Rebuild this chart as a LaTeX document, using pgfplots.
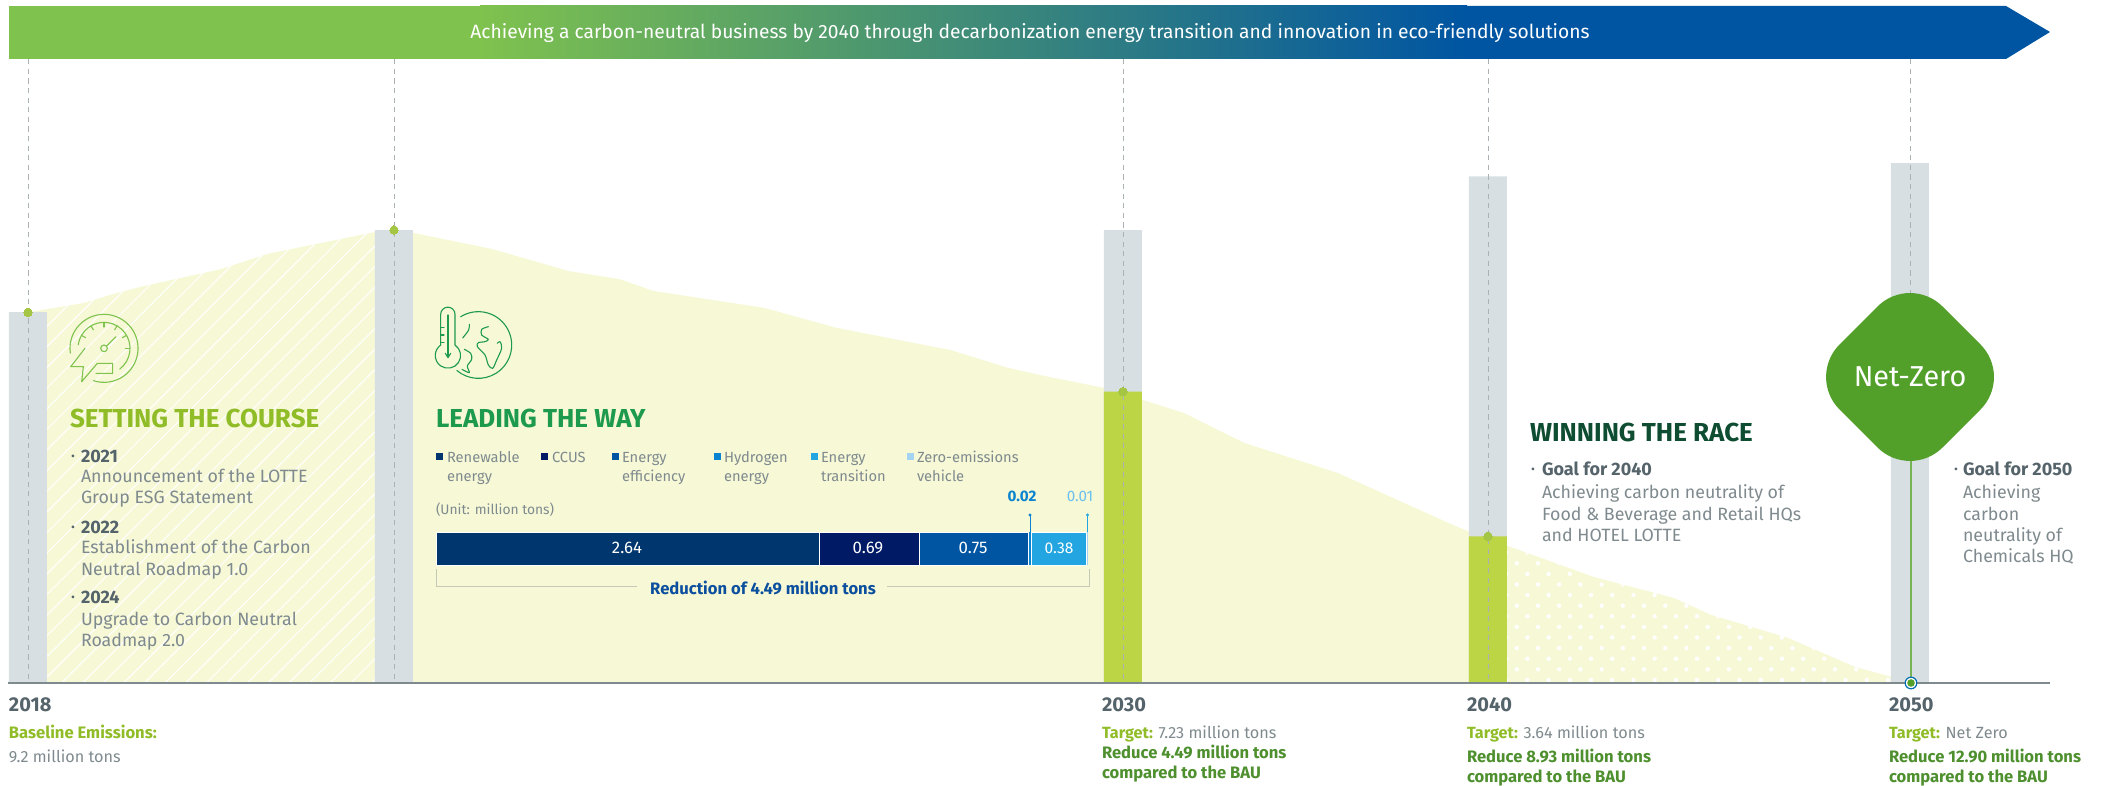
\documentclass[border=0pt]{standalone}
\usepackage{fontspec}
\usepackage{pgfplots}
\pgfplotsset{compat=1.18}
\usepackage{pgfplotstable}
\usetikzlibrary{patterns.meta,shadings}
\setmainfont{Fira Sans}

\definecolor{areaC}{HTML}{F6F8D6}
\definecolor{greyBar}{HTML}{D7DFE2}
\definecolor{limeBar}{HTML}{BBD544}
\definecolor{limeDot}{HTML}{A5C544}
\definecolor{dashC}{HTML}{ABB2B5}
\definecolor{baseC}{HTML}{7E8A8D}
\definecolor{arrowG}{HTML}{7FC24E}
\definecolor{arrowB}{HTML}{0055A2}
\definecolor{netZ}{HTML}{52A02A}
\definecolor{headA}{HTML}{8FBC27}
\definecolor{headB}{HTML}{1E9A4C}
\definecolor{headC}{HTML}{0E4D32}
\definecolor{txtD}{HTML}{55636A}
\definecolor{txtL}{HTML}{7F8A8E}
\definecolor{txtG}{HTML}{4E8F2E}
\definecolor{cRen}{HTML}{00366E}
\definecolor{cCcus}{HTML}{001A66}
\definecolor{cEff}{HTML}{0055A2}
\definecolor{cHyd}{HTML}{0A84D0}
\definecolor{cTra}{HTML}{22A5E0}
\definecolor{cZer}{HTML}{A5D3F2}
\definecolor{cZerT}{HTML}{6CC0EE}
\definecolor{brkt}{HTML}{C5C9B8}
\definecolor{redT}{HTML}{0B4F9E}

% Emissions curve, million tons (x is the horizontal position on the timeline)
\pgfplotstableread{
x y
28 9.20
84 9.43
117 9.68
144 9.85
221 10.27
268 10.65
375 11.19
394 11.24
413 11.17
492 10.77
569 10.22
620 10.02
653 9.73
764 9.31
837 8.81
951 8.26
1008 7.82
1050 7.59
1123 7.23
1143 7.02
1184 6.70
1244 5.96
1338 5.21
1453 3.92
1470 3.75
1488 3.64
1508 3.40
1594 2.63
1674 2.11
1711 1.69
1788 1.12
1855 0.40
1892 0.15
1910 0
}\curve

% Hatched stretch of the curve, up to the first target period
\pgfplotstableread{
x y
47 9.30
84 9.43
117 9.68
144 9.85
221 10.27
268 10.65
375 11.19
}\curveHatch

% Dotted stretch of the curve, after 2040
\pgfplotstableread{
x y
1507 3.40
1594 2.63
1674 2.11
1711 1.69
1788 1.12
1855 0.40
1892 0.15
1910 0
}\curveDots

% Business-as-usual columns and the target columns, million tons
\pgfplotstableread{
x y
28 9.20
394 11.24
1123 11.24
1488 12.57
1910 12.90
}\bau
\pgfplotstableread{
x y
1123 7.23
1488 3.64
}\target
\pgfplotstableread{
x y
28 9.20
394 11.24
1123 7.23
1488 3.64
}\points

\tikzset{
  every node/.append style={inner sep=0pt,outer sep=0pt},
  body/.style={font=\fontsize{8.9}{10}\selectfont,text=txtL,yshift=-2.9pt},
  bodyB/.style={font=\fontsize{9}{10}\bfseries\selectfont,text=txtD,yshift=-3.1pt},
  bul/.style={font=\fontsize{6}{7}\selectfont,text=txtD,yshift=-2.1pt},
  head/.style={font=\fontsize{13}{14}\bfseries\selectfont,yshift=-4.6pt},
  small/.style={font=\fontsize{7.35}{9}\selectfont,text=txtL,yshift=-2.7pt},
  year/.style={font=\fontsize{10}{11}\bfseries\selectfont,text=txtD,yshift=-3.2pt},
  note/.style={font=\fontsize{8.1}{10}\selectfont,text=txtL,yshift=-3pt},
  noteA/.style={font=\fontsize{8.3}{10}\bfseries\selectfont,text=headA,yshift=-3pt},
  noteG/.style={font=\fontsize{8.3}{10}\bfseries\selectfont,text=txtG,yshift=-3pt},
}
\newcommand{\T}[5][base west]{\node[anchor=#1,#4] at (#2,#3) {#5};}

\begin{document}
\begin{tikzpicture}
\useasboundingbox (0pt,0pt) rectangle (1051pt,393pt);
% Timeline: horizontal position in layout units, vertical scale in million tons
\begin{axis}[
  at={(0pt,0pt)},anchor=south west,
  scale only axis,width=1051pt,height=393pt,
  xmin=0,xmax=2102,ymin=-2.5558,ymax=16.9479,
  hide axis,clip=false]
\addplot[draw=none,fill=areaC] table[x=x,y=y] {\curve} \closedcycle;
\addplot[draw=none,pattern={Lines[angle=45,distance=7.3pt,line width=0.5pt]},pattern color=white]
  table[x=x,y=y] {\curveHatch} \closedcycle;
\addplot[draw=none,pattern={Dots[angle=45,distance=7.5pt,radius=1.1pt]},pattern color=white]
  table[x=x,y=y] {\curveDots} \closedcycle;
\addplot[ybar,bar width=19pt,bar shift=0pt,draw=none,fill=greyBar] table[x=x,y=y] {\bau};
\addplot[ybar,bar width=19pt,bar shift=0pt,draw=none,fill=limeBar] table[x=x,y=y] {\target};
% Guide lines from the banner down to the timeline
\foreach \g in {28,394,1123,1488,1910}{
  \edef\tmp{\noexpand\addplot[dashC,line width=0.45pt,dash pattern=on 2.6pt off 2.2pt]
    coordinates {(\g,15.48) (\g,0)};}\tmp
}
\addplot[only marks,color=limeDot,mark=*,mark size=2.1pt,mark options={draw=limeDot,fill=limeDot,line width=0pt}] table[x=x,y=y] {\points};
\addplot[color=netZ!80!white,line width=0.6pt] coordinates {(1911,5.6) (1911,0)};
\end{axis}

% Breakdown of the 4.49 million ton reduction
\begin{axis}[
  at={(218pt,110.5pt)},anchor=south west,
  scale only axis,width=326pt,height=16.5pt,
  xmin=0,xmax=4.49,ymin=-0.5,ymax=0.5,
  hide axis,clip=false,
  xbar stacked,bar width=16.5pt]
\addplot[draw=white,line width=0.3pt,fill=cRen] coordinates {(2.64,0)};
\addplot[draw=white,line width=0.3pt,fill=cCcus] coordinates {(0.69,0)};
\addplot[draw=white,line width=0.3pt,fill=cEff] coordinates {(0.75,0)};
\addplot[draw=none,fill=cHyd] coordinates {(0.02,0)};
\addplot[draw=white,line width=0.3pt,fill=cTra] coordinates {(0.38,0)};
\addplot[draw=none,fill=cZer] coordinates {(0.01,0)};
\end{axis}

% Banner, labels and icons, laid out from the top left corner
\begin{scope}[x=0.5pt,y=-0.5pt,shift={(0pt,393pt)}]
  \fill[arrowG] (9,6) rectangle (481,59);
  \shade[left color=arrowG,right color=arrowB,shading angle=90] (480,6) rectangle (1467,59);
  \fill[arrowB] (1466,6) -- (2006,6) -- (2050,32) -- (2006,59) -- (1466,59) -- cycle;
  \node[anchor=center,font=\fontsize{9.62}{12}\selectfont,text=white] at (1030,33.5) {Achieving a carbon-neutral business by 2040 through decarbonization energy transition and innovation in eco-friendly solutions};

  \draw[baseC,line width=0.75pt] (8,683) -- (2050,683);

  % Net-Zero badge with the 2050 marker
  \fill[netZ,rounded corners=23pt] (1910,274) -- (2013,377) -- (1910,480) -- (1807,377) -- cycle;
  \node[anchor=center,font=\fontsize{14.4}{15}\selectfont,text=white] at (1910,377) {Net-Zero};
  \draw[arrowB!85!cyan,line width=0.6pt,fill=white] (1911,683) circle (5.8);
  \fill[netZ] (1911,683) circle (3.8);

  % Section: setting the course
  \T{70}{418}{head,text=headA}{SETTING THE COURSE}
  \T{71}{456}{bul}{•} \T{81}{456}{bodyB}{2021}
  \T{81}{477}{body}{Announcement of the LOTTE}
  \T{81}{498}{body}{Group ESG Statement}
  \T{71}{527}{bul}{•} \T{81}{527}{bodyB}{2022}
  \T{81}{548}{body}{Establishment of the Carbon}
  \T{81}{570}{body}{Neutral Roadmap 1.0}
  \T{71}{597}{bul}{•} \T{81}{597}{bodyB}{2024}
  \T{81}{620}{body}{Upgrade to Carbon Neutral}
  \T{81}{641}{body}{Roadmap 2.0}

  % Section: leading the way
  \T{436}{418}{head,text=headB}{LEADING THE WAY}
  \foreach \sx/\tx/\c/\la/\lb in {436/447/cRen/Renewable/energy,541/552/cCcus/CCUS/,612/622/cEff/Energy/efficiency,714/724/cHyd/Hydrogen/energy,811/821/cTra/Energy/transition,907/917/cZer/Zero-emissions/vehicle}{
    \fill[\c] (\sx,453) rectangle ++(7,7);
    \T{\tx}{457}{small}{\la}
    \T{\tx}{476}{small}{\lb}
  }
  \T{436}{509}{small,font=\fontsize{6.9}{9}\selectfont}{(Unit: million tons)}
  \T[base]{1022}{496}{small,font=\fontsize{7.6}{9}\bfseries\selectfont,text=cHyd}{0.02}
  \T[base]{1080}{496}{small,font=\fontsize{7.6}{9}\selectfont,text=cZerT}{0.01}
  \draw[cHyd,line width=0.4pt] (1030,515) -- (1030,532);
  \fill[cHyd] (1030,515) circle (1.6);
  \draw[cTra,line width=0.4pt] (1087.5,515) -- (1087.5,532);
  \fill[cTra] (1087.5,515) circle (1.6);
  \T[base]{627}{548}{small,font=\fontsize{8.4}{10}\selectfont,text=white}{2.64}
  \T[base]{868}{548}{small,font=\fontsize{8.4}{10}\selectfont,text=white}{0.69}
  \T[base]{973}{548}{small,font=\fontsize{8.4}{10}\selectfont,text=white}{0.75}
  \T[base]{1059}{548}{small,font=\fontsize{7.8}{10}\selectfont,text=white}{0.38}
  \draw[brkt,line width=0.5pt] (436,569) -- (436,587) -- (637,587);
  \draw[brkt,line width=0.5pt] (1089,569) -- (1089,587) -- (887,587);
  \T[base]{763}{588}{bodyB,font=\fontsize{8.3}{10}\bfseries\selectfont,text=redT}{Reduction of 4.49 million tons}

  % Section: winning the race
  \T{1530}{432}{head,text=headC}{WINNING THE RACE}
  \T{1531}{469}{bul}{•} \T{1542}{469}{bodyB}{Goal for 2040}
  \T{1542}{493}{body}{Achieving carbon neutrality of}
  \T{1542}{515}{body}{Food \& Beverage and Retail HQs}
  \T{1542}{536}{body}{and HOTEL LOTTE}
  \T{1954}{469}{bul}{•} \T{1963}{469}{bodyB}{Goal for 2050}
  \T{1963}{493}{body}{Achieving}
  \T{1963}{515}{body}{carbon}
  \T{1963}{536}{body}{neutrality of}
  \T{1963}{557}{body}{Chemicals HQ}

  % Years and targets
  \T{9}{705}{year}{2018}
  \T{9}{733}{noteA}{Baseline Emissions:}
  \T{9}{757}{note}{9.2 million tons}
  \T{1102}{705}{year}{2030}
  \T{1102}{733}{note}{\textcolor{headA}{\bfseries Target:} 7.23 million tons}
  \T{1102}{753}{noteG}{Reduce 4.49 million tons}
  \T{1102}{773}{noteG}{compared to the BAU}
  \T{1467}{705}{year}{2040}
  \T{1467}{733}{note}{\textcolor{headA}{\bfseries Target:} 3.64 million tons}
  \T{1467}{757}{noteG}{Reduce 8.93 million tons}
  \T{1467}{777}{noteG}{compared to the BAU}
  \T{1889}{705}{year}{2050}
  \T{1889}{733}{note}{\textcolor{headA}{\bfseries Target:} Net Zero}
  \T{1889}{757}{noteG}{Reduce 12.90 million tons}
  \T{1889}{777}{noteG}{compared to the BAU}
\end{scope}

% Gauge with lightning bolt
\begin{scope}[shift={(20pt,248pt)},x=0.1667pt,y=0.1667pt,draw=arrowG,line width=0.55pt,line cap=round,line join=round]
  \draw (192,-175) ++(188:102) arc[start angle=188,end angle=-108,radius=102];
  \draw (192,-175) ++(172:78) arc[start angle=172,end angle=-53,radius=78];
  \foreach \a in {150,120,90,60,30,0}{
    \draw (192,-175) ++(\a:78) -- ++(\a:-14);
  }
  \draw (192,-175) circle (10);
  \draw (200,-168) -- (228,-140);
  \draw (135,-175) -- (92,-230) -- (130,-230) -- (125,-275) -- (172,-220) -- (218,-220) -- (218,-250) -- (168,-250);
\end{scope}

% Thermometer and globe
\begin{scope}[shift={(210pt,248pt)},x=0.1667pt,y=0.1667pt,draw=headB,line width=0.55pt,line cap=round,line join=round]
  \draw (62,-165) -- (62,-73) arc[start angle=180,end angle=0,radius=21.5] -- (105,-165)
        arc[start angle=56,end angle=-236,radius=38];
  \draw (84,-75) -- (84,-200);
  \draw (76,-190) -- (84,-203) -- (92,-190);
  \foreach \t in {113,135,157}{\draw (62,-\t) -- (72,-\t);}
  \draw (175,-165) ++(122:100) arc[start angle=122,end angle=-130,radius=100];
  \draw plot[smooth] coordinates {(148,-103) (146,-120) (128,-144)};
  \draw plot[smooth] coordinates {(133,-178) (152,-190) (155,-208) (142,-228) (148,-248) (126,-238)};
  \draw plot[smooth] coordinates {(205,-110) (185,-118) (185,-135) (205,-148) (195,-155) (175,-158) (172,-170) (195,-195) (205,-225) (218,-235) (230,-210) (245,-175) (240,-155) (232,-160)};
\end{scope}
\end{tikzpicture}
\end{document}
